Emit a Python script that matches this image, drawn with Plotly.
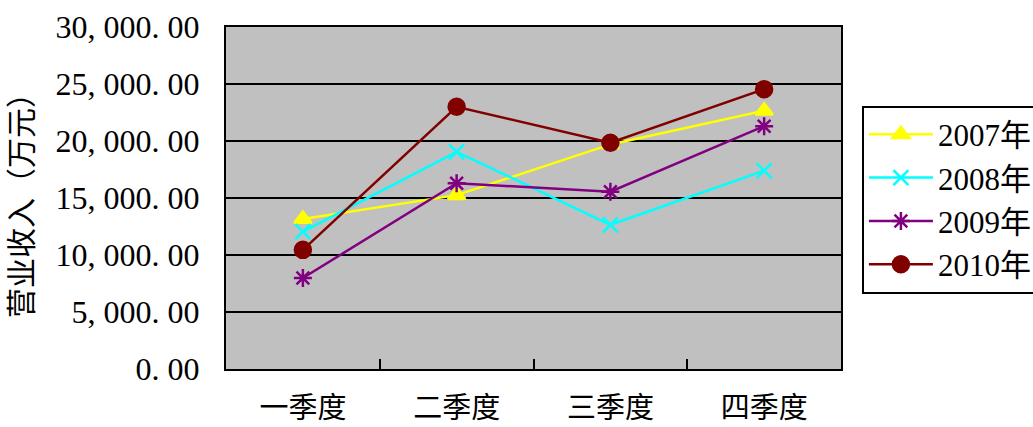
import plotly.graph_objects as go

categories = ["一季度", "二季度", "三季度", "四季度"]
series_names = ["2007年", "2008年", "2009年", "2010年"]
v2007 = [13150, 15250, 19700, 22650]
v2008 = [12050, 19050, 12650, 17400]
v2009 = [7980, 16300, 15550, 21300]
v2010 = [10450, 23000, 19850, 24550]
y_tickvals = [0, 5000, 10000, 15000, 20000, 25000, 30000]
y_ticktext = ["0. 00", "5, 000. 00", "10, 000. 00", "15, 000. 00", "20, 000. 00", "25, 000. 00", "30, 000. 00"]
y_title = "营业收入（万元）"

values = [v2007, v2008, v2009, v2010]
colors = ["#FFFF00", "#00FFFF", "#800080", "#800000"]
symbols = ["triangle-up", "x-thin-open", "asterisk-open", "circle"]
sizes = [15, 15, 15, 16]

FONT = "Liberation Serif, Noto Sans CJK SC, serif"

fig = go.Figure()
for i, (name, vals) in enumerate(zip(series_names, values)):
    fig.add_trace(go.Scatter(
        x=categories, y=vals, name=name, mode="lines+markers",
        line=dict(color=colors[i], width=2.5),
        marker=dict(symbol=symbols[i], size=sizes[i], color=colors[i],
                    line=dict(color=colors[i], width=2.5)),
    ))

fig.update_layout(
    width=1033, height=427,
    margin=dict(l=226, r=192, t=27, b=58, autoexpand=False),
    paper_bgcolor="white", plot_bgcolor="#C0C0C0",
    font=dict(family=FONT, color="black", size=31),
    showlegend=True,
    legend=dict(x=1.034, xanchor="left", y=0.77, yanchor="top",
                bordercolor="black", borderwidth=2, bgcolor="white",
                font=dict(size=31, family=FONT), itemwidth=64),
)
fig.update_xaxes(
    type="category", range=[-0.5, len(categories) - 0.5],
    showgrid=False, showline=True, linecolor="black", linewidth=2,
    mirror=True, ticks="inside", tickson="boundaries", ticklen=10, tickcolor="black",
    tickwidth=2, tickfont=dict(size=29, family=FONT), ticklabelstandoff=12,
    automargin=False,
)
fig.update_yaxes(
    range=[0, 30000], tickvals=y_tickvals, ticktext=y_ticktext,
    showgrid=True, gridcolor="black", gridwidth=2, showline=True, linecolor="black",
    linewidth=2, mirror=True, zeroline=False, ticks="", ticklabelstandoff=18,
    tickfont=dict(size=32, family=FONT), automargin=False,
    title=dict(text=y_title, font=dict(size=30, family=FONT), standoff=14),
)
fig.write_html("out.html")
